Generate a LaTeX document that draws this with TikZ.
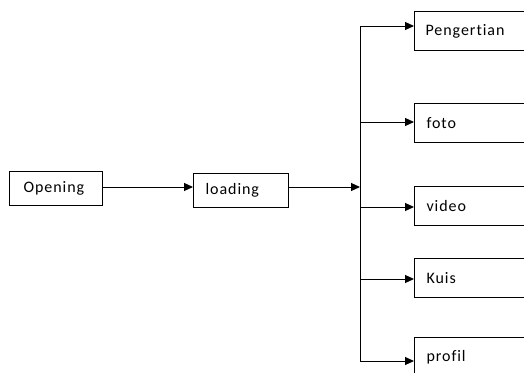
\documentclass[tikz,border=0pt]{standalone}
\usepackage{fontspec}
\setmainfont{Carlito}[Ligatures=NoCommon,LetterSpace=6]
\usetikzlibrary{arrows.meta}
\begin{document}
\begin{tikzpicture}[x=1pt,y=-1pt,
  box/.style={draw,line width=1pt,anchor=north west,inner sep=0pt,
    minimum height=#1,font=\fontsize{16}{16}\selectfont},
  conn/.style={line width=1pt},
  arr/.style={line width=1pt,-{Triangle[length=9pt,width=8pt]}}]
\useasboundingbox (0,0) rectangle (524,372);
\clip (0,0) rectangle (524,372);
\node[box=34pt] (opening) at (9,171) {\makebox[93pt][l]{\hspace*{14pt}Opening}};
\node[box=34pt] (loading) at (193,173) {\makebox[95pt][l]{\hspace*{12pt}loading}};
\node[box=39pt] (pengertian) at (414,11) {\makebox[130pt][l]{\hspace*{11pt}Pengertian}};
\node[box=39pt] (foto) at (414,103) {\makebox[130pt][l]{\hspace*{12pt}foto}};
\node[box=39pt] (video) at (414,186) {\makebox[130pt][l]{\hspace*{12pt}video}};
\node[box=39pt] (kuis) at (414,258) {\makebox[130pt][l]{\hspace*{12pt}Kuis}};
\node[box=39pt] (profil) at (414,337) {\makebox[130pt][l]{\hspace*{12pt}profil}};
\coordinate (top) at (360,26);
\coordinate (bot) at (360,361);
\coordinate (join) at (360,187);
\coordinate (bfoto) at (360,122);
\coordinate (bvideo) at (360,207);
\coordinate (bkuis) at (360,279);
\draw[conn] (top) -- (bot);
\draw[arr] (opening.east |- join) -- (loading.west |- join);
\draw[arr] (loading.east |- join) -- (join);
\draw[arr] (top) -- (top -| pengertian.west);
\draw[arr] (bfoto) -- (bfoto -| foto.west);
\draw[arr] (bvideo) -- (bvideo -| video.west);
\draw[arr] (bkuis) -- (bkuis -| kuis.west);
\draw[arr] (bot) -- (bot -| profil.west);
\end{tikzpicture}
\end{document}
